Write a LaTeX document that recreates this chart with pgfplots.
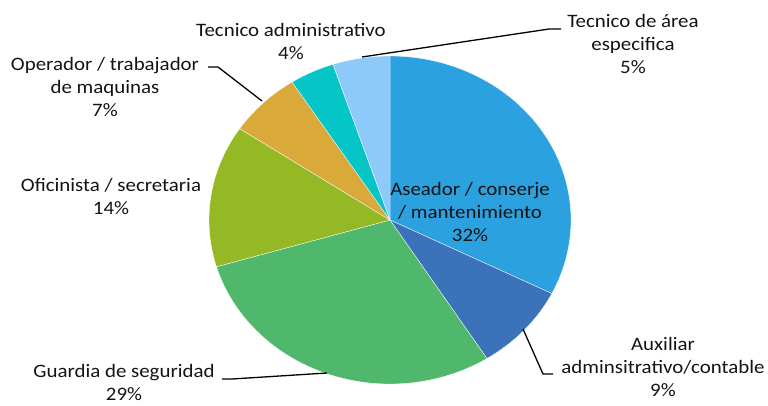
\documentclass[border=0pt]{standalone}
\usepackage{pgfplots}
\pgfplotsset{compat=1.18}
\usepackage{fontspec}
\setmainfont{Carlito}[FakeStretch=1.1]
\definecolor{cA}{HTML}{2CA1DF}
\definecolor{cB}{HTML}{3B72B9}
\definecolor{cC}{HTML}{50B86C}
\definecolor{cD}{HTML}{94B925}
\definecolor{cE}{HTML}{D9A93A}
\definecolor{cF}{HTML}{06C5C6}
\definecolor{cG}{HTML}{8DC9F9}
\definecolor{txt}{HTML}{141414}
\begin{document}
\fontsize{19}{23}\selectfont
\begin{tikzpicture}
\useasboundingbox (0,0) rectangle (768pt,405pt);
\begin{axis}[
  at={(0,0)}, anchor=south west,
  width=768pt, height=405pt, scale only axis,
  xmin=0, xmax=768, ymin=0, ymax=405,
  hide axis, clip=false,
]
\gdef\start{90}
\def\cx{390}\def\cy{185}\def\rx{181}\def\ry{164}
\foreach \v/\c in {32.4/cA, 8.6/cB, 29.4/cC, 14.0/cD, 6.5/cE, 4.0/cF, 5.1/cG} {
  \pgfmathsetmacro\e{\start-3.6*\v}
  \edef\tmp{\noexpand\addplot[fill=\c, draw=white, line width=0.3pt, domain=\e:\start, samples=90, variable=\noexpand\t]
    ({\cx+\rx*cos(\noexpand\t)}, {\cy+\ry*sin(\noexpand\t)}) -- (axis cs:\cx,\cy) -- cycle;}
  \tmp
  \global\let\start\e
}
% leader lines
\draw[black, line width=1.3pt] (axis cs:362,348) -- (axis cs:549,376) -- (axis cs:561,376);
\draw[black, line width=1.3pt] (axis cs:208,338) -- (axis cs:218,338) -- (axis cs:262,304);
\draw[black, line width=1.3pt] (axis cs:222,26) -- (axis cs:232,26) -- (axis cs:327,32);
\draw[black, line width=1.3pt] (axis cs:523,76) -- (axis cs:543,31) -- (axis cs:553,31);
% labels
\begin{scope}[every node/.style={align=center, inner sep=0pt, text=txt, font=\fontsize{19}{23}\selectfont}]
\node at (axis cs:470,193) {Aseador / conserje\\/ mantenimiento\\32\%};
\node at (axis cs:291,363.5) {Tecnico administrativo\\4\%};
\node at (axis cs:633,361) {Tecnico de área\\especifica\\5\%};
\node at (axis cs:105,318) {Operador / trabajador\\de maquinas\\7\%};
\node at (axis cs:111,208.5) {Oficinista / secretaria\\14\%};
\node at (axis cs:124,23) {Guardia de seguridad\\29\%};
\node at (axis cs:663,38) {Auxiliar\\adminsitrativo/contable\\9\%};
\end{scope}
\end{axis}
\end{tikzpicture}
\end{document}
